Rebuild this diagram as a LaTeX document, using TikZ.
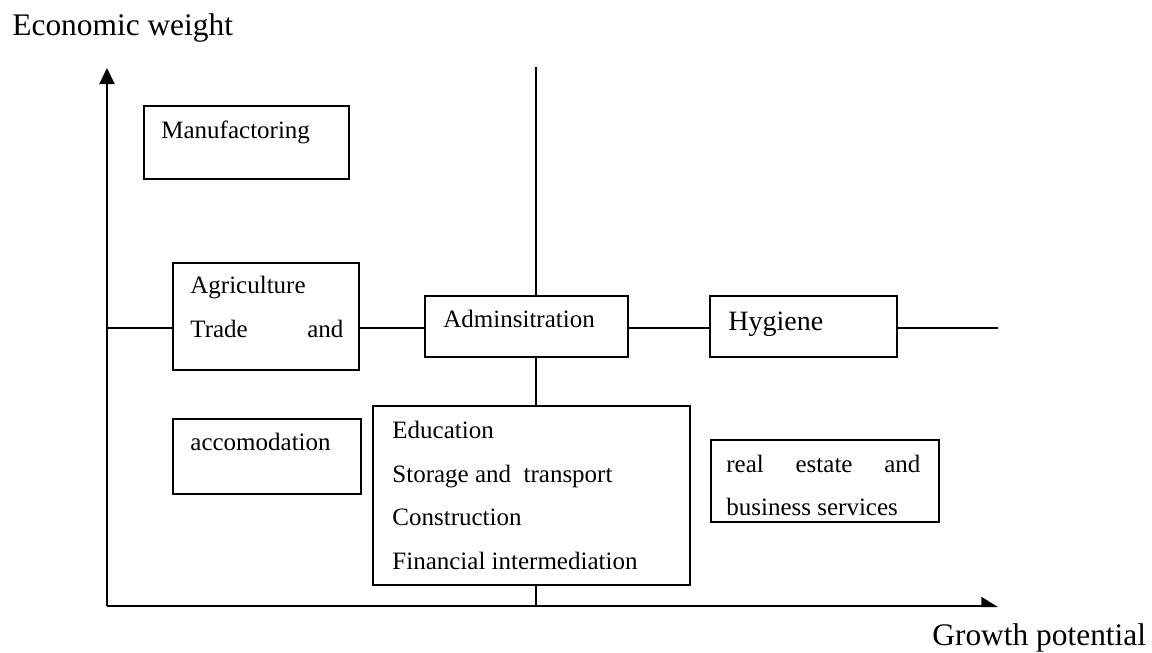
\documentclass[tikz,border=0pt]{standalone}
\usepackage{fontspec}
\setmainfont{Liberation Serif}
\usetikzlibrary{arrows.meta,fit,calc}

\begin{document}
\begin{tikzpicture}[x=0.5pt, y=-0.5pt,
    box/.style={draw, line width=0.9pt, fill=white, inner sep=0pt},
    txt/.style={inner sep=0pt, anchor=base west, font=\fontsize{12.5}{15}\selectfont},
    lbl/.style={inner sep=0pt, anchor=base west, font=\fontsize{15.7}{19}\selectfont},
    ln/.style={line width=0.8pt},
    ax/.style={line width=1pt}]
  \useasboundingbox[fill=white] (0,0) rectangle (1152,653);
  % axes
  \coordinate (o) at (107,606);
  \coordinate (ytip) at (107,68);
  \coordinate (xtip) at (998,606);
  \draw[ax, -{Triangle[length=8pt, width=7.5pt]}] (o) -- (ytip);
  \draw[ax, -{Triangle[length=7.5pt, width=9pt, left]}] (o) -- (xtip);
  \node[lbl] (ew) at (12,35) {Economic weight};
  \node[lbl] (gp) at (932,645) {Growth potential};
  % boxes
  \node[box, fit={(144,106) (349,179)}] (manu) {};
  \node[box, fit={(173,263) (359,370)}] (agri) {};
  \node[box, fit={(425,296) (628,357)}] (admin) {};
  \node[box, fit={(710,296) (897,357)}] (hyg) {};
  \node[box, fit={(173,419) (361,494)}] (acc) {};
  \node[box, fit={(373,406) (690,585)}] (edu) {};
  \node[box, fit={(711,440) (939,522)}] (real) {};
  % texts
  \node[txt] (manuT) at (161,138) {Manufactoring};
  \node[txt] (agriT) at (190,293) {Agriculture};
  \node[txt] (tradeT) at (190,337) {\hbox to 76.5pt{Trade\hfill and}};
  \node[txt] (adminT) at (443,327) {Adminsitration};
  \node[txt, font=\fontsize{14}{17}\selectfont] (hygT) at (728,330) {Hygiene};
  \node[txt] (accT) at (190,450) {accomodation};
  \node[txt] (eduT) at (392,438) {Education};
  \node[txt] (storT) at (392,482) {Storage and\ \ transport};
  \node[txt] (consT) at (392,525) {Construction};
  \node[txt] (finT) at (392,569) {Financial intermediation};
  \node[txt] (realT) at (726,472) {\hbox to 97pt{real\hfill estate\hfill and}};
  \node[txt] (busT) at (726,515) {business services};
  % cross lines
  \coordinate (top) at (536,67);
  \coordinate (bot) at (536,606);
  \coordinate (hl) at (107,328);
  \coordinate (hr) at (998,328);
  \draw[ln] (hl) -- (agri.west |- hl);
  \draw[ln] (agri.east |- hl) -- (admin.west |- hl);
  \draw[ln] (admin.east |- hl) -- (hyg.west |- hl);
  \draw[ln] (hyg.east |- hl) -- (hr);
  \draw[ln] (top) -- (admin.north -| top);
  \draw[ln] (admin.south -| top) -- (edu.north -| top);
  \draw[ln] (edu.south -| top) -- (bot);
\end{tikzpicture}
\end{document}
